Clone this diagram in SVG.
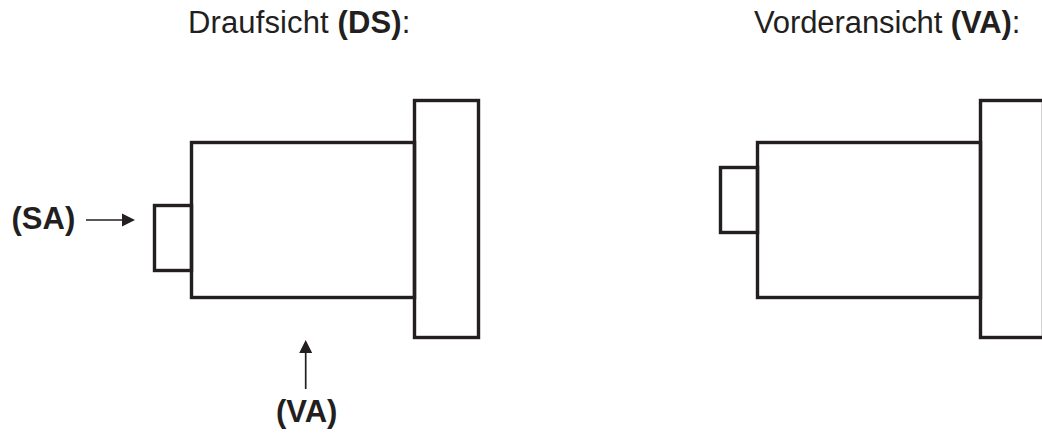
<svg xmlns="http://www.w3.org/2000/svg" width="1042" height="434" viewBox="0 0 1042 434">
<defs><style>
text{font-family:"Liberation Sans",Arial,sans-serif;font-size:31px;fill:#231f20}
.b{font-weight:bold}
.s{fill:none;stroke:#231f20;stroke-width:3.400}
.c{fill:none;stroke:#231f20;stroke-width:1.700}
.h{fill:#231f20;stroke:none}
</style></defs>
<rect width="1042" height="434" fill="#fff"/>
<g id="title-ds"><text x="188" y="33" letter-spacing="0.130">Draufsicht <tspan class="b">(DS)</tspan>:</text></g>
<g id="title-va"><text x="754" y="33" letter-spacing="-0.100">Vorderansicht <tspan class="b">(VA)</tspan>:</text></g>
<g id="top-view">
<rect class="s" x="191.500" y="142.500" width="223" height="155"/>
<rect class="s" x="414.500" y="100.500" width="64" height="237"/>
<rect class="s" x="154.500" y="205.500" width="37" height="65"/>
</g>
<g id="front-view">
<rect class="s" x="757.500" y="142.500" width="223" height="155"/>
<rect class="s" x="980.500" y="100.500" width="63" height="237"/>
<rect class="s" x="720.500" y="167.500" width="37" height="65"/>
</g>
<g id="label-sa"><text class="b" x="11.500" y="229">(SA)</text></g>
<g id="label-va"><text class="b" x="276" y="422">(VA)</text></g>
<g id="connectors">
<line class="c" x1="86" y1="220" x2="124" y2="220"/>
<polygon class="h" points="135,220 122,213.500 122,226.500"/>
<line class="c" x1="305.700" y1="389" x2="305.700" y2="351"/>
<polygon class="h" points="305.700,340 299.200,353 312.200,353"/>
</g>
</svg>
